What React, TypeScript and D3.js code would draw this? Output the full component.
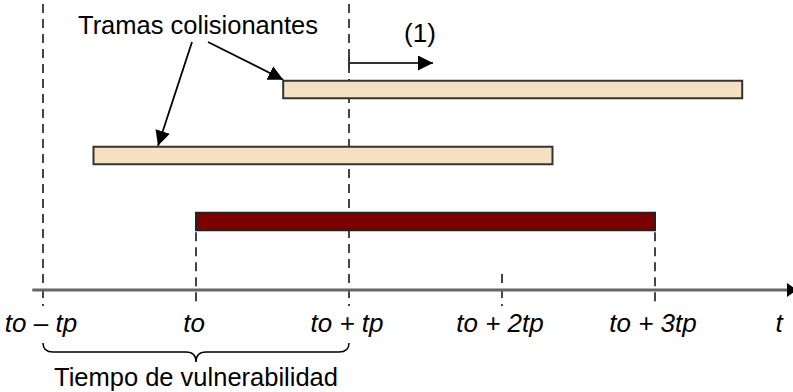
import React from "react";
import * as d3 from "d3";

const W = 793;
const H = 392;

// Frames: start time and duration in units of tp
const frameNames = ["colisionante1", "colisionante2", "transmitida"];
const frameStarts = [0.57, -0.67, 0];
const frameDurations = [3, 3, 3];
const frameKinds = ["col", "col", "main"];

// Axis ticks (units of tp)
const tickValues = [-1, 0, 1, 2, 3];
const tickLabels = ["to – tp", "to", "to + tp", "to + 2tp", "to + 3tp"];

export default function App() {
  const x = d3.scaleLinear().domain([-1, 3]).range([43, 655]);
  const y = d3.scaleLinear().domain([0, 2]).range([89.5, 221.5]);
  const axisY = 290;
  const barH = 17.5;
  const font = "'Liberation Sans', Arial, sans-serif";
  const dash = "9,6";
  const dashColor = "#444";

  const mainIdx = frameKinds.indexOf("main");
  const mainTop = y(mainIdx) - barH / 2;

  const bx0 = x(-1);
  const bx1 = x(1);
  const bmid = x(0);
  const by = 343;
  const braceD = `M${bx0},${by} Q${bx0},${by + 9} ${bx0 + 10},${by + 9} L${bmid - 10},${by + 9} Q${bmid},${by + 9} ${bmid},${by + 19} Q${bmid},${by + 9} ${bmid + 10},${by + 9} L${bx1 - 10},${by + 9} Q${bx1},${by + 9} ${bx1},${by}`;

  return (
    <svg width={W} height={H} style={{ position: "absolute", left: 0, top: 0, background: "#fff" }}>
      <defs>
        <marker id="ah2" viewBox="0 0 10 10" refX="10" refY="5" markerWidth="15" markerHeight="15" markerUnits="userSpaceOnUse" orient="auto">
          <path d="M0,0 L10,5 L0,10 z" fill="#000" />
        </marker>
      </defs>

      {/* dashed reference lines */}
      <line x1={x(-1)} x2={x(-1)} y1={4} y2={306} stroke={dashColor} strokeWidth={2} strokeDasharray={dash} />
      <line x1={x(1)} x2={x(1)} y1={4} y2={306} stroke={dashColor} strokeWidth={2} strokeDasharray={dash} />
      <line x1={x(0)} x2={x(0)} y1={mainTop + barH + 2} y2={306} stroke={dashColor} strokeWidth={2} strokeDasharray={dash} />
      <line x1={x(3)} x2={x(3)} y1={mainTop + barH + 2} y2={306} stroke={dashColor} strokeWidth={2} strokeDasharray={dash} />
      <line x1={x(2)} x2={x(2)} y1={274} y2={306} stroke={dashColor} strokeWidth={2} strokeDasharray={dash} />

      {/* axis */}
      <line x1={x(-1.07)} x2={788} y1={axisY} y2={axisY} stroke="#666" strokeWidth={3} />
      <path d={`M787,${axisY - 7} L797,${axisY} L787,${axisY + 7} z`} fill="#000" />

      {/* frames */}
      {frameNames.map((n, i) => (
        <rect
          key={n}
          x={x(frameStarts[i])}
          y={y(i) - barH / 2}
          width={x(frameStarts[i] + frameDurations[i]) - x(frameStarts[i])}
          height={barH}
          fill={frameKinds[i] === "main" ? "#7b0000" : "#f5e1c1"}
          stroke={frameKinds[i] === "main" ? "#222" : "#333"}
          strokeWidth={2}
        />
      ))}

      {/* tick labels */}
      {tickValues.map((v, i) => (
        <text key={v} x={x(v) - 2} y={332} textAnchor="middle" fontFamily={font} fontSize={26} fontStyle="italic" fill="#000">
          {tickLabels[i]}
        </text>
      ))}
      <text x={779} y={332} textAnchor="middle" fontFamily={font} fontSize={26} fontStyle="italic" fill="#000">t</text>

      {/* annotation */}
      <text x={78} y={34} fontFamily={font} fontSize={25.5} fill="#000">Tramas colisionantes</text>
      <line x1={208} y1={42} x2={x(frameStarts[0])} y2={y(0) - barH / 2 - 1} stroke="#000" strokeWidth={1.8} markerEnd="url(#ah2)" />
      <line x1={192} y1={42} x2={158} y2={y(1) - barH / 2 - 1} stroke="#000" strokeWidth={1.8} markerEnd="url(#ah2)" />

      <text x={420} y={42} textAnchor="middle" fontFamily={font} fontSize={26} fill="#000">(1)</text>
      <line x1={x(1)} y1={57} x2={x(1)} y2={69} stroke="#333" strokeWidth={2} />
      <line x1={x(1)} y1={63} x2={433} y2={63} stroke="#333" strokeWidth={2} markerEnd="url(#ah2)" />

      {/* brace */}
      <path d={braceD} fill="none" stroke="#000" strokeWidth={1.5} />
      <text x={x(0)} y={386} textAnchor="middle" fontFamily={font} fontSize={25.5} fill="#000">Tiempo de vulnerabilidad</text>
    </svg>
  );
}
